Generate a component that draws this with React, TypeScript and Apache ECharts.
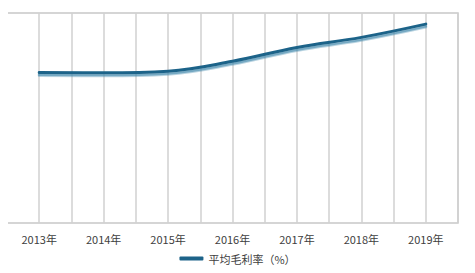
import React, { useEffect, useRef } from "react";
import * as echarts from "echarts";

const categories = ["2013年", "2014年", "2015年", "2016年", "2017年", "2018年", "2019年"];
const marginValues = [71.7, 71.5, 72.3, 77.0, 83.6, 88.4, 94.7];
const seriesName = "平均毛利率（%）";

export default function App() {
  const ref = useRef<HTMLDivElement>(null);
  useEffect(() => {
    if (!ref.current) return;
    const chart = echarts.init(ref.current, null, { renderer: "svg" });
    chart.setOption({
      animation: false,
      textStyle: { fontFamily: "Noto Sans CJK SC" },
      grid: { left: 7, right: 17, top: 13, bottom: 50, show: true, borderColor: "#c8c8c8", borderWidth: 1.5 },
      legend: {
        bottom: 4,
        left: "center",
        itemWidth: 24,
        itemHeight: 4,
        icon: "roundRect",
        textStyle: { fontSize: 11, color: "#404040", fontFamily: "Noto Sans CJK SC" },
        data: [seriesName],
      },
      xAxis: [
        {
          type: "category",
          data: categories,
          boundaryGap: true,
          axisLine: { show: false },
          axisTick: { show: false },
          splitLine: { show: false },
          axisLabel: { fontSize: 11, color: "#404040", margin: 10 },
        },
        {
          type: "value",
          min: 0,
          max: 7,
          interval: 0.5,
          position: "bottom",
          axisLine: { show: false },
          axisTick: { show: false },
          axisLabel: { show: false },
          splitLine: { show: true, lineStyle: { color: "#d0d0d0", width: 1.5 } },
        },
      ],
      yAxis: {
        type: "value",
        min: 0,
        max: 100,
        axisLine: { show: false },
        axisTick: { show: false },
        axisLabel: { show: false },
        splitLine: { show: false },
      },
      series: [
        {
          name: seriesName,
          type: "line",
          xAxisIndex: 0,
          data: marginValues,
          smooth: 0.4,
          symbol: "none",
          itemStyle: { color: "#1d6389" },
          lineStyle: {
            color: "#1d6389",
            width: 3,
            cap: "round",
            shadowColor: "rgba(70,140,175,0.75)",
            shadowBlur: 0,
            shadowOffsetX: 0,
            shadowOffsetY: 2.5,
          },
        },
      ],
    });
    return () => chart.dispose();
  }, []);
  return <div ref={ref} style={{ width: 475, height: 273, margin: -8 }} />;
}
